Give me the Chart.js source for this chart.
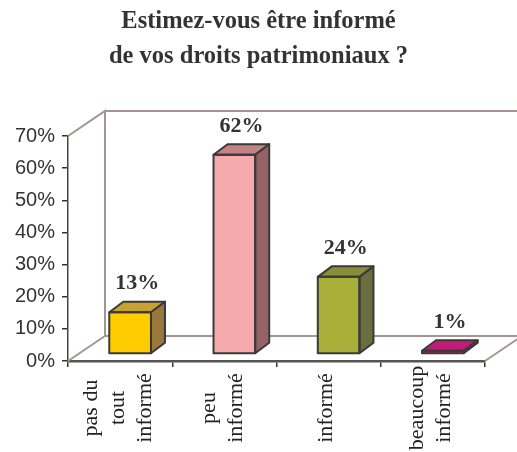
<!DOCTYPE html>
<html>
<head>
<meta charset="utf-8">
<script src="https://cdn.jsdelivr.net/npm/chart.js@4/dist/chart.umd.min.js"></script>
<style>
html,body{margin:0;padding:0;background:#fff;}
#wrap{width:517px;height:452px;position:relative;}
</style>
</head>
<body>
<div id="wrap"><canvas id="c" width="517" height="452"></canvas></div>
<script>
// ---- data ----
const titleLines = ['Estimez-vous être informé', 'de vos droits patrimoniaux ?'];
const categories = [['pas du', 'tout', 'informé'], ['peu', 'informé'], ['informé'], ['beaucoup', 'informé']];
const values = [13, 62, 24, 1];
const yMin = 0, yMax = 70, yStep = 10;

// ---- styles ----
const frontColors = ['#FFCC00', '#F7AAAE', '#A9B03A', '#E8198B'];
const topColors   = ['#C9A032', '#C68386', '#8B8E36', '#C31B78'];
const sideColors  = ['#9A773A', '#966266', '#6C6E3F', '#9E1560'];
const edgeColor = '#3a3a3a';
const wallColor = '#a39692';
const WALL_DX = 37, WALL_DY = -25;   // full depth of the plot box
const BAR_SX = 10, BAR_SY = -7;      // bar front offset inside the box
const BAR_DX = 14, BAR_DY = -10.5;   // bar depth

const threeD = {
  id: 'threeD',
  beforeDatasetsDraw(chart) {
    const {ctx, chartArea: a} = chart;
    ctx.save();
    ctx.strokeStyle = wallColor;
    ctx.lineWidth = 2;
    ctx.beginPath();
    // left wall
    ctx.moveTo(a.left, a.top); ctx.lineTo(a.left + WALL_DX, a.top + WALL_DY);
    ctx.lineTo(a.left + WALL_DX, a.bottom + WALL_DY);
    ctx.moveTo(a.left, a.bottom); ctx.lineTo(a.left + WALL_DX, a.bottom + WALL_DY);
    // back wall
    ctx.moveTo(a.left + WALL_DX, a.top + WALL_DY); ctx.lineTo(a.right + WALL_DX, a.top + WALL_DY);
    ctx.lineTo(a.right + WALL_DX, a.bottom + WALL_DY);
    ctx.moveTo(a.left + WALL_DX, a.bottom + WALL_DY); ctx.lineTo(a.right + WALL_DX, a.bottom + WALL_DY);
    // floor right edge
    ctx.moveTo(a.right, a.bottom); ctx.lineTo(a.right + WALL_DX, a.bottom + WALL_DY);
    ctx.stroke();
    ctx.restore();
  },
  beforeDatasetDraw(chart) {
    chart.ctx.save();
    chart.ctx.translate(BAR_SX, BAR_SY);
  },
  afterDatasetDraw(chart, args) {
    const ctx = chart.ctx;
    const meta = chart.getDatasetMeta(args.index);
    meta.data.forEach((el, i) => {
      const L = el.x - el.width / 2, R = el.x + el.width / 2, T = el.y, B = el.base;
      ctx.lineWidth = 2;
      ctx.strokeStyle = edgeColor;
      ctx.lineJoin = 'round';
      // top
      ctx.beginPath();
      ctx.moveTo(L, T); ctx.lineTo(R, T); ctx.lineTo(R + BAR_DX, T + BAR_DY); ctx.lineTo(L + BAR_DX, T + BAR_DY); ctx.closePath();
      ctx.fillStyle = topColors[i]; ctx.fill(); ctx.stroke();
      // side
      ctx.beginPath();
      ctx.moveTo(R, T); ctx.lineTo(R + BAR_DX, T + BAR_DY); ctx.lineTo(R + BAR_DX, B + BAR_DY); ctx.lineTo(R, B); ctx.closePath();
      ctx.fillStyle = sideColors[i]; ctx.fill(); ctx.stroke();
      // front outline
      ctx.strokeRect(L, T, R - L, B - T);
    });
    ctx.restore();
  },
  afterDatasetsDraw(chart) {
    const ctx = chart.ctx;
    const meta = chart.getDatasetMeta(0);
    ctx.save();
    ctx.fillStyle = '#333';
    ctx.font = 'bold 22px "Liberation Serif", "Times New Roman", serif';
    ctx.textAlign = 'center';
    ctx.textBaseline = 'middle';
    meta.data.forEach((el, i) => {
      ctx.fillText(values[i] + '%', el.x + BAR_SX + BAR_DX / 2, el.y + BAR_SY + BAR_DY - 18);
    });
    // category labels, rotated, centred per line
    const xs = chart.scales.x;
    ctx.font = '22px "Liberation Serif", "Times New Roman", serif';
    ctx.fillStyle = '#222';
    categories.forEach((lines, i) => {
      const cx = xs.getPixelForValue(i) - 2;
      const n = lines.length;
      lines.forEach((ln, j) => {
        const x = cx + (j - (n - 1) / 2) * 27;
        ctx.save();
        ctx.translate(x, 408);
        ctx.rotate(-Math.PI / 2);
        ctx.fillText(ln, 0, 0);
        ctx.restore();
      });
    });
    ctx.restore();
  }
};

Chart.defaults.font.family = '"Liberation Sans", Arial, sans-serif';
Chart.defaults.color = '#333';

new Chart(document.getElementById('c'), {
  type: 'bar',
  data: {
    labels: categories,
    datasets: [{
      data: values,
      backgroundColor: frontColors,
      borderColor: edgeColor,
      borderWidth: 0,
      barPercentage: 0.4,
      categoryPercentage: 1.0,
      clip: false
    }]
  },
  options: {
    responsive: false,
    animation: false,
    devicePixelRatio: 1,
    layout: { padding: 0 },
    plugins: {
      legend: { display: false },
      tooltip: { enabled: false },
      title: {
        display: true,
        text: titleLines,
        color: '#333',
        font: { family: '"Liberation Serif", "Times New Roman", serif', size: 24.5, weight: 'bold', lineHeight: 35 / 24.5 },
        padding: { top: 4, bottom: 62 }
      }
    },
    scales: {
      x: {
        grid: { drawOnChartArea: false, drawTicks: true, tickLength: 6, color: '#333', lineWidth: 1.5, offset: true },
        border: { display: true, color: '#555', width: 2.5 },
        ticks: { display: false },
        afterFit(s) { s.height = 91; }
      },
      y: {
        min: yMin, max: yMax,
        grid: { drawOnChartArea: false, drawTicks: true, tickLength: 6, color: '#333', lineWidth: 1.5 },
        border: { display: true, color: '#444', width: 1.5 },
        ticks: {
          stepSize: yStep,
          padding: 7,
          color: '#333',
          font: { size: 20 },
          callback: v => v + '%'
        },
        afterFit(s) { s.width = 68; }
      },
      yRight: {
        position: 'right',
        display: true,
        min: yMin, max: yMax,
        grid: { display: false, drawTicks: false },
        border: { display: false },
        ticks: { display: false },
        afterFit(s) { s.width = 32; }
      }
    }
  },
  plugins: [threeD]
});
</script>
</body>
</html>
